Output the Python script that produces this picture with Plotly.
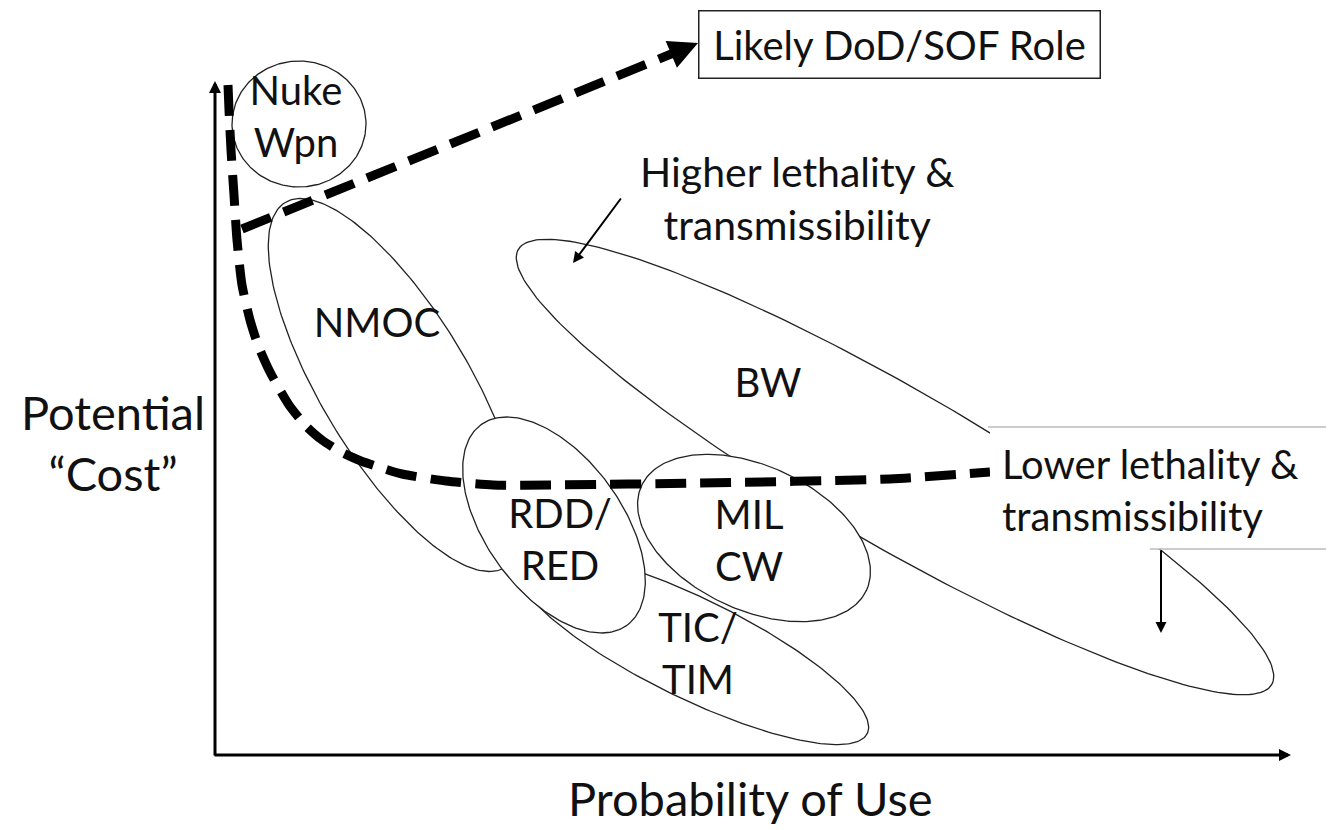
import numpy as np
import plotly.graph_objects as go

# ---- Diagram data (coordinates in diagram units: x to the right, y downward) ----
region_names = ["NMOC", "BW", "TIC/TIM", "RDD/RED", "MIL CW", "Nuke Wpn"]
region_cx = [395, 895, 692, 554, 754, 299]
region_cy = [385, 467, 648, 525, 538, 124]
region_a = [213, 435, 195, 124, 124, 67]
region_b = [74, 78, 50, 68, 72, 63]
region_angle = [59, 30, 26, 54, 25, 0]

label_text = ["Nuke<br>Wpn", "NMOC", "BW", "RDD/<br>RED", "MIL<br>CW", "TIC/<br>TIM"]
label_x = [296, 377, 768, 560, 749, 698]
label_y = [121, 327, 387, 544, 545, 658]

threshold_x = [228, 229, 231, 234, 237, 242, 250, 258, 270, 289, 306, 322, 341, 361, 382, 402,
               446, 493, 550, 700, 890, 990]
threshold_y = [85, 110, 150, 195, 240, 285, 320, 345, 372, 405, 426, 440, 452, 461, 468, 474,
               481, 485, 485, 483, 479, 472]

role_x = [242, 676]
role_y = [229, 52]

FONT = "Lato, 'Noto Sans', sans-serif"
PAGE_OFFSET = 8  # default body margin of the HTML page

fig = go.Figure()

for name, cx, cy, a, b, ang in zip(region_names, region_cx, region_cy, region_a, region_b, region_angle):
    t = np.linspace(0, 2 * np.pi, 240)
    th = np.deg2rad(ang)
    ex = cx + a * np.cos(t) * np.cos(th) - b * np.sin(t) * np.sin(th)
    ey = cy + a * np.cos(t) * np.sin(th) + b * np.sin(t) * np.cos(th)
    fig.add_trace(go.Scatter(x=ex, y=ey, mode="lines", fill="toself", fillcolor="white",
                             line=dict(color="#222222", width=1.3), name=name,
                             hoverinfo="skip", showlegend=False))

fig.add_trace(go.Scatter(x=threshold_x, y=threshold_y, mode="lines",
                         line=dict(color="black", width=9, dash="31px,14px", shape="spline", smoothing=0.6),
                         hoverinfo="skip", showlegend=False))
fig.add_trace(go.Scatter(x=role_x, y=role_y, mode="lines",
                         line=dict(color="black", width=9, dash="31px,14px"),
                         hoverinfo="skip", showlegend=False))

fig.add_trace(go.Scatter(x=label_x, y=label_y, mode="text", text=label_text,
                         textposition="middle center",
                         textfont=dict(family=FONT, size=40, color="#111111"),
                         hoverinfo="skip", showlegend=False))

annotations = [
    # axes
    dict(x=1291, y=755, ax=213, ay=755, axref="x", ayref="y", xref="x", yref="y",
         text="", showarrow=True, arrowhead=2, arrowwidth=3, arrowsize=0.8, arrowcolor="black"),
    dict(x=215, y=81, ax=215, ay=757, axref="x", ayref="y", xref="x", yref="y",
         text="", showarrow=True, arrowhead=2, arrowwidth=3, arrowsize=0.8, arrowcolor="black"),
    # role arrowhead
    dict(x=698, y=43, ax=672, ay=54, axref="x", ayref="y", xref="x", yref="y",
         text="", showarrow=True, arrowhead=2, arrowwidth=4, arrowsize=1.45, arrowcolor="black"),
    # higher / lower arrows
    dict(x=573, y=263, ax=622, ay=197, axref="x", ayref="y", xref="x", yref="y",
         text="", showarrow=True, arrowhead=2, arrowwidth=2, arrowsize=1.1, arrowcolor="black"),
    dict(x=1161, y=633, ax=1161, ay=549, axref="x", ayref="y", xref="x", yref="y",
         text="", showarrow=True, arrowhead=2, arrowwidth=2, arrowsize=1.1, arrowcolor="black"),
    # texts
    dict(x=899, y=44, xref="x", yref="y", text="Likely DoD/SOF Role", showarrow=False,
         font=dict(family=FONT, size=40, color="#111111"), bgcolor="white",
         bordercolor="#222222", borderwidth=1.5, borderpad=0, width=400, height=66),
    dict(x=797, y=198, xref="x", yref="y", text="Higher lethality &amp;<br>transmissibility",
         showarrow=False, align="center", font=dict(family=FONT, size=41, color="#111111")),
    dict(x=1000, y=490, xref="x", yref="y", xanchor="left", text="Lower lethality &amp;<br>transmissibility",
         showarrow=False, align="left", font=dict(family=FONT, size=40, color="#111111")),
    dict(x=113, y=442, xref="x", yref="y", text="Potential<br>\u201cCost\u201d",
         showarrow=False, align="center", font=dict(family=FONT, size=47, color="#111111")),
    dict(x=750, y=798, xref="x", yref="y", text="Probability of Use",
         showarrow=False, font=dict(family=FONT, size=47, color="#111111")),
]

shapes = [
    dict(type="rect", xref="x", yref="y", x0=990, x1=1340, y0=427, y1=549, layer="above",
         fillcolor="white", line=dict(width=0)),
    dict(type="line", xref="x", yref="y", x0=988, x1=1340, y0=427, y1=427, layer="above",
         line=dict(color="#bbbbbb", width=1.5)),
    dict(type="line", xref="x", yref="y", x0=1150, x1=1340, y0=549, y1=549, layer="above",
         line=dict(color="#bbbbbb", width=1.5)),
]

fig.update_layout(
    width=1334 - 2 * PAGE_OFFSET, height=830 - PAGE_OFFSET, margin=dict(l=0, r=0, t=0, b=0),
    paper_bgcolor="white", plot_bgcolor="white",
    xaxis=dict(range=[PAGE_OFFSET, 1334 - PAGE_OFFSET], visible=False, fixedrange=True),
    yaxis=dict(range=[830, PAGE_OFFSET], visible=False, fixedrange=True),
    annotations=annotations, shapes=shapes, showlegend=False,
)

fig.write_html("out.html")
